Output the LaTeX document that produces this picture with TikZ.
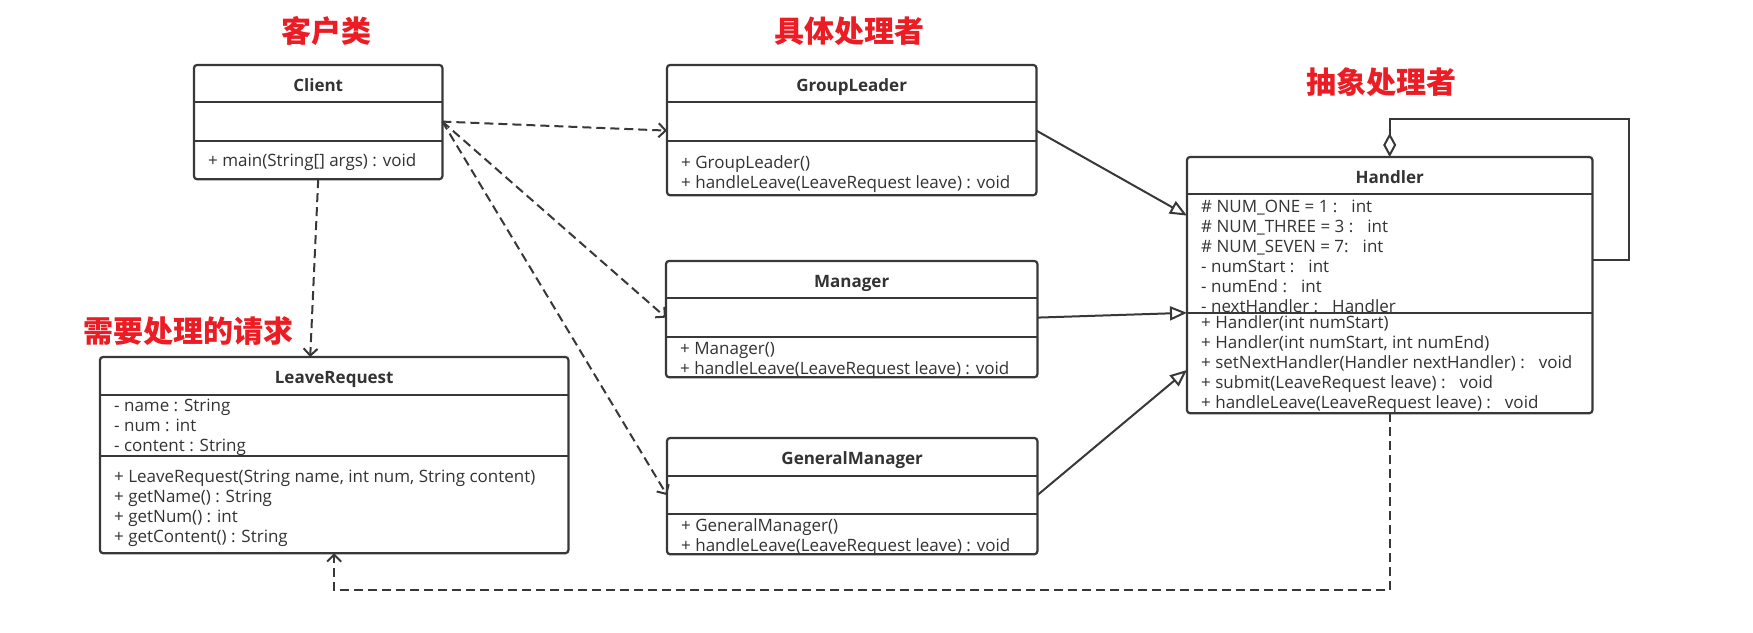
\documentclass[tikz,border=0pt]{standalone}
\usepackage{fontspec}
\setmainfont{Open Sans}
\newfontfamily\cjk{Noto Sans CJK SC}
\usetikzlibrary{arrows.meta, positioning}

\definecolor{umlline}{HTML}{383838}
\definecolor{umltext}{HTML}{333333}
\definecolor{notered}{HTML}{EC1C24}
\newcommand{\colgap}{\hspace{14pt}}

\tikzset{
  cmp/.style={rectangle, inner sep=0pt, anchor=north},
  clsname/.style={cmp, font=\fontsize{17}{20}\selectfont\bfseries, text=umltext, text height=15pt, text depth=0pt},
  members/.style={anchor=west, inner sep=0pt, align=left, font=\fontsize{17}{20}\selectfont, text=umltext},
  classbox/.style={draw=umlline, line width=2.2pt, rounded corners=3pt},
  divider/.style={draw=umlline, line width=2pt},
  dep/.style={draw=umlline, line width=2pt, dash pattern=on 9pt off 5pt, -{Straight Barb[length=7pt,width=14pt]}},
  inherit/.style={draw=umlline, line width=2pt, -{Triangle[open,length=17pt,width=14pt]}},
  aggr/.style={draw=umlline, line width=2pt, -{Diamond[open,length=24pt,width=13pt]}},
  redlabel/.style={font=\cjk\fontsize{30}{30}\selectfont\bfseries, text=notered, inner sep=0pt},
}

\begin{document}
\begin{tikzpicture}[x=1pt, y=-1pt]
  \fill[white] (0,0) rectangle (1753,632);
  \useasboundingbox (0,0) rectangle (1753,632);

  % ===== Client =====
  \node[clsname, anchor=north west, minimum width=248pt, minimum height=37pt] (client) at (194,65) {Client};
  \node[cmp, minimum width=248pt, minimum height=38pt, below=0pt of client] (client-a) {};
  \node[cmp, minimum width=248pt, minimum height=38pt, below=0pt of client-a] (client-m) {};
  \node[members] (client-mt) at ([xshift=14pt, yshift=-2pt]client-m.west) {+ main(String[] args) : void};

  % ===== GroupLeader =====
  \node[clsname, anchor=north west, minimum width=369pt, minimum height=37pt] (gl) at (667,65) {GroupLeader};
  \node[cmp, minimum width=369pt, minimum height=38pt, below=0pt of gl] (gl-a) {};
  \node[cmp, minimum width=369pt, minimum height=54pt, below=0pt of gl-a] (gl-m) {};
  \node[members] (gl-mt) at ([xshift=14pt, yshift=-6pt]gl-m.west) {+ GroupLeader()\\+ handleLeave(LeaveRequest leave) : void};

  % ===== Manager =====
  \node[clsname, anchor=north west, minimum width=371pt, minimum height=37pt] (man) at (666,261) {Manager};
  \node[cmp, minimum width=371pt, minimum height=38pt, below=0pt of man] (man-a) {};
  \node[cmp, minimum width=371pt, minimum height=40pt, below=0pt of man-a] (man-m) {};
  \node[members] (man-mt) at ([xshift=14pt, yshift=-3pt]man-m.west) {+ Manager()\\+ handleLeave(LeaveRequest leave) : void};

  % ===== GeneralManager =====
  \node[clsname, anchor=north west, minimum width=370pt, minimum height=38pt] (gm) at (667,438) {GeneralManager};
  \node[cmp, minimum width=370pt, minimum height=37pt, below=0pt of gm] (gm-a) {};
  \node[cmp, minimum width=370pt, minimum height=40pt, below=0pt of gm-a] (gm-m) {};
  \node[members] (gm-mt) at ([xshift=14pt, yshift=-3pt]gm-m.west) {+ GeneralManager()\\+ handleLeave(LeaveRequest leave) : void};

  % ===== LeaveRequest =====
  \node[clsname, anchor=north west, minimum width=468pt, minimum height=38pt] (lr) at (100,357) {LeaveRequest};
  \node[cmp, minimum width=468pt, minimum height=60pt, below=0pt of lr] (lr-a) {};
  \node[cmp, minimum width=468pt, minimum height=97pt, below=0pt of lr-a] (lr-m) {};
  \node[members] (lr-at) at ([xshift=14pt, yshift=-2pt]lr-a.west) {- name : String\\- num : int\\- content : String};
  \node[members] (lr-mt) at ([xshift=14pt, yshift=-4pt]lr-m.west) {+ LeaveRequest(String name, int num, String content)\\+ getName() : String\\+ getNum() : int\\+ getContent() : String};

  % ===== Handler =====
  \node[clsname, anchor=north west, minimum width=405pt, minimum height=37pt] (hl) at (1187,157) {Handler};
  \node[cmp, minimum width=405pt, minimum height=118pt, below=0pt of hl] (hl-a) {};
  \node[cmp, minimum width=405pt, minimum height=100pt, below=0pt of hl-a] (hl-m) {};
  \node[members] (hl-at) at ([xshift=14pt, yshift=-3pt]hl-a.west) {\# NUM\_ONE = 1 :\colgap int\\\# NUM\_THREE = 3 :\colgap int\\\# NUM\_SEVEN = 7:\colgap int\\- numStart :\colgap int\\- numEnd :\colgap int\\- nextHandler :\colgap Handler};
  \node[members] (hl-mt) at ([xshift=14pt, yshift=-1pt]hl-m.west) {+ Handler(int numStart)\\+ Handler(int numStart, int numEnd)\\+ setNextHandler(Handler nextHandler) :\colgap void\\+ submit(LeaveRequest leave) :\colgap void\\+ handleLeave(LeaveRequest leave) :\colgap void};

  % ===== outlines =====
  \foreach \c in {client, gl, man, gm, lr, hl} {
    \draw[classbox] (\c.north west) rectangle (\c-m.south east);
    \draw[divider] (\c-a.north west) -- (\c-a.north east);
    \draw[divider] (\c-m.north west) -- (\c-m.north east);
  }

  % ===== labels =====
  \node[redlabel] (lbl-client) at (326,31) {客户类};
  \node[redlabel] (lbl-concrete) at (849,31) {具体处理者};
  \node[redlabel] (lbl-abstract) at (1381,82) {抽象处理者};
  \node[redlabel] (lbl-request) at (188,331) {需要处理的请求};

  % ===== relations =====
  \draw[dep] (client-a.east) -- ([yshift=-9pt]gl-a.west);
  \draw[dep] (client-a.east) -- (man-a.west);
  \draw[dep] (client-a.east) -- (gm-a.west);
  \draw[dep] (client-m.south) -- ([xshift=-24pt]lr.north);
  \draw[inherit] ([yshift=-9pt]gl-a.east) -- ([yshift=38pt]hl-a.west);
  \draw[inherit] (man-a.east) -- (hl-a.south west);
  \draw[inherit] (gm-a.east) -- ([yshift=-7pt]hl-m.west);
  \draw[aggr] ([yshift=-6pt]hl-a.east) -- ++(37,0) |- ([yshift=38pt]hl.north) -- (hl.north);
  \draw[dep] (hl-m.south) -- ++(0,177) -| (lr-m.south);
\end{tikzpicture}
\end{document}
